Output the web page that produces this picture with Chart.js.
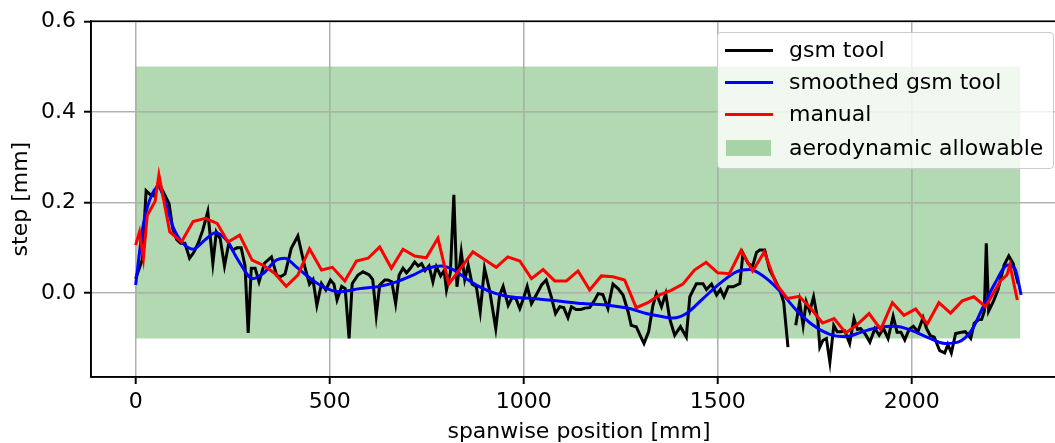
<!DOCTYPE html>
<html>
<head>
<meta charset="utf-8">
<script src="https://cdn.jsdelivr.net/npm/chart.js@4.4.1/dist/chart.umd.min.js"></script>
<style>
  html, body { margin: 0; padding: 0; background: #fff; overflow: hidden; }
  /* the axes run a bit past the right edge, as in the original figure crop */
  #wrap { position: relative; width: 1055px; height: 443px; overflow: hidden; }
  #c { position: absolute; left: 0; top: 0; }
  #legend {
    position: absolute; left: 717px; top: 32px; width: 335px; height: 135px;
    border: 1px solid #cccccc; border-radius: 4px; background: rgba(255,255,255,0.8);
    font-family: "DejaVu Sans", sans-serif; font-size: 22px; color: #000;
  }
  .row { position: absolute; left: 0; height: 30px; width: 100%; }
  .row .h { position: absolute; left: 7px; width: 48px; }
  .row .t { position: absolute; left: 71px; top: 0; line-height: 30px; white-space: nowrap; }
</style>
</head>
<body>
<div id="wrap">
  <canvas id="c" width="1068" height="443"></canvas>
  <div id="legend"></div>
</div>
<script>
// gsm tool (raw), null = gap
const GSM_X = [0, 17, 27, 37, 46, 58, 66, 76, 86, 96, 106, 116, 127, 139, 150, 162, 173, 186, 199, 208,
  218, 229, 240, 250, 261, 272, 282, 290, 298, 308, 318, 332, 350, 363, 373, 385, 401, 418, 436, 448,
  457, 467, 479, 490, 502, 511, 519, 531, 540, 550, 558, 573, 586, 602, 611, 620, 629, 642, 650, 660,
  670, 679, 689, 698, 708, 719, 728, 737, 746, 756, 766, 775, 786, 795, 801, 811, 820, 828, 839, 848,
  857, 867, 878, 888, 899, 912, 928, 938, 947, 960, 970, 980, 990, 1000, 1009, 1020, 1033, 1046, 1058, 1070,
  1082, 1093, 1103, 1114, 1123, 1135, 1147, 1158, 1170, 1183, 1192, 1204, 1217, 1230, 1243, 1256, 1269, 1277, 1290, 1300,
  1310, 1322, 1333, 1342, 1355, 1366, 1376, 1389, 1404, 1419, 1428, 1445, 1462, 1471, 1484, 1497, 1507, 1516, 1527, 1540,
  1557, 1565, 1578, 1590, 1600, 1608, 1621, 1634, 1647, 1660, 1670, 1681, 1691, 1701, 1711, 1720, 1728, 1737, 1747, 1758,
  1763, 1771, 1780, 1789, 1799, 1808, 1818, 1827, 1840, 1851, 1860, 1868, 1880, 1892, 1905, 1916, 1927, 1939, 1952, 1962,
  1972, 1982, 1993, 2004, 2016, 2029, 2038, 2048, 2058, 2072, 2085, 2093, 2102, 2113, 2125, 2138, 2152, 2161, 2172, 2180,
  2187, 2192, 2198, 2210, 2222, 2238, 2250, 2261, 2274];
const GSM_Y = [0.032, 0.073, 0.226, 0.218, 0.215, 0.242, 0.232, 0.215, 0.198, 0.140, 0.118, 0.110, 0.110, 0.077, 0.090, 0.112, 0.139, 0.180, 0.066, 0.135,
  0.120, 0.060, 0.110, 0.095, 0.100, 0.100, 0.060, -0.088, 0.055, 0.055, 0.025, 0.066, 0.080, 0.040, 0.036, 0.042, 0.099, 0.126, 0.058, 0.020,
  0.030, -0.027, 0.021, 0.007, 0.029, 0.020, -0.015, 0.015, 0.010, -0.100, 0.021, 0.040, 0.047, 0.040, 0.030, -0.049, 0.018, 0.029, 0.029, 0.025,
  -0.023, 0.040, 0.055, 0.045, 0.055, 0.069, 0.060, 0.065, 0.050, 0.060, 0.025, 0.058, 0.038, 0.050, 0.007, 0.045, 0.217, 0.014, 0.091, 0.030,
  0.062, 0.020, 0.014, -0.041, 0.055, 0.007, -0.078, -0.005, 0.015, -0.027, -0.010, -0.012, -0.034, -0.010, 0.015, -0.023, -0.003, 0.018, 0.029, -0.005,
  -0.045, -0.030, -0.032, -0.054, -0.030, -0.036, -0.036, -0.033, -0.032, -0.015, -0.001, -0.003, -0.034, 0.020, 0.010, -0.004, -0.041, -0.071, -0.074, -0.093,
  -0.111, -0.085, -0.027, -0.001, -0.030, -0.001, -0.056, -0.093, -0.074, -0.097, -0.008, 0.021, 0.021, 0.008, 0.020, -0.004, 0.008, -0.008, 0.014, 0.014,
  0.021, 0.088, 0.066, 0.060, 0.090, 0.095, 0.095, 0.051, 0.030, 0.007, -0.020, -0.119, null, -0.071, -0.019, -0.071, -0.019, -0.040, -0.008, -0.060,
  -0.119, -0.104, -0.100, -0.152, -0.071, -0.085, -0.085, -0.083, -0.111, -0.056, -0.080, -0.078, -0.090, -0.108, -0.078, -0.093, -0.078, -0.100, -0.051, -0.086,
  -0.086, -0.103, -0.080, -0.073, -0.085, -0.054, -0.078, -0.094, -0.097, -0.127, -0.132, -0.113, -0.132, -0.089, -0.087, -0.085, -0.100, -0.066, -0.059, -0.058,
  -0.040, 0.110, -0.040, -0.019, 0.007, 0.062, 0.082, 0.066, 0.021];

// smoothed gsm tool
const SMOOTH_X = [0, 19, 36, 58, 75, 96, 122, 148, 178, 206, 234, 264, 302, 328, 363, 384, 414, 448, 483, 526,
  577, 629, 672, 715, 753, 788, 818, 852, 887, 925, 964, 1024, 1084, 1153, 1222, 1273, 1316, 1359, 1385, 1419,
  1462, 1505, 1548, 1582, 1617, 1660, 1703, 1746, 1789, 1830, 1870, 1913, 1956, 1999, 2042, 2085, 2119, 2154, 2184, 2214,
  2248, 2265, 2282];
const SMOOTH_Y = [0.018, 0.147, 0.205, 0.235, 0.205, 0.147, 0.110, 0.097, 0.117, 0.133, 0.117, 0.073, 0.032, 0.043, 0.073, 0.077, 0.058, 0.034, 0.014, 0.003,
  0.010, 0.015, 0.025, 0.040, 0.055, 0.060, 0.052, 0.032, 0.014, 0.000, -0.008, -0.012, -0.017, -0.023, -0.027, -0.034, -0.045, -0.052, -0.055, -0.045,
  -0.012, 0.021, 0.047, 0.052, 0.038, 0.005, -0.038, -0.071, -0.091, -0.096, -0.086, -0.076, -0.073, -0.082, -0.098, -0.111, -0.108, -0.082, -0.030, 0.021,
  0.062, 0.055, -0.004];

// manual
const MANUAL_X = [0, 10, 20, 30, 50, 60, 88, 118, 148, 180, 210, 238, 268, 300, 328, 358, 388, 418, 448, 479,
  507, 539, 569, 599, 629, 659, 689, 719, 749, 779, 807, 869, 899, 929, 959, 990, 1020, 1050, 1080, 1110,
  1140, 1170, 1200, 1230, 1260, 1290, 1320, 1350, 1380, 1410, 1440, 1470, 1500, 1530, 1560, 1590, 1620, 1650, 1680, 1710,
  1740, 1770, 1800, 1830, 1860, 1890, 1920, 1950, 1980, 2010, 2040, 2070, 2100, 2130, 2160, 2190, 2230, 2245, 2253, 2272];
const MANUAL_Y = [0.106, 0.135, 0.077, 0.172, 0.202, 0.261, 0.135, 0.113, 0.158, 0.165, 0.154, 0.113, 0.128, 0.073, 0.062, 0.044, 0.015, 0.040, 0.098, 0.051,
  0.057, 0.027, 0.071, 0.077, 0.102, 0.055, 0.097, 0.082, 0.078, 0.121, 0.020, 0.091, 0.074, 0.057, 0.080, 0.071, 0.032, 0.052, 0.027, 0.027,
  0.049, 0.007, 0.038, 0.036, 0.029, -0.032, -0.021, -0.004, 0.006, 0.020, 0.051, 0.068, 0.045, 0.043, 0.094, 0.049, 0.091, 0.021, -0.012, -0.007,
  -0.034, -0.066, -0.056, -0.088, -0.069, -0.045, -0.080, -0.021, -0.049, -0.035, -0.068, -0.021, -0.044, -0.017, -0.008, -0.030, 0.029, 0.040, 0.062, -0.015];

// aerodynamic allowable band
const BAND_X = [0, 2280];
const BAND_HI = [0.5, 0.5];
const BAND_LO = [-0.1, -0.1];

const X_TICKS = [0, 500, 1000, 1500, 2000];
const Y_TICKS = [0.0, 0.2, 0.4, 0.6];

const FONT = "DejaVu Sans";
const FS = 22;
const GREEN = "rgba(0, 128, 0, 0.3)";
const BAND_INDEX = 3;

const pts = (xs, ys) => xs.map((x, i) => ({ x, y: ys[i] }));

// grid goes over the green band but under the lines (matplotlib zorder),
// then a box around the axes like the spines
const frame = {
  id: 'frame',
  afterDatasetDraw(chart, args) {
    if (args.index !== BAND_INDEX) return;
    chart.scales.x.drawGrid(chart.chartArea);
    chart.scales.y.drawGrid(chart.chartArea);
  },
  afterDatasetsDraw(chart) {
    const { ctx, chartArea: a } = chart;
    ctx.save();
    ctx.strokeStyle = '#000';
    ctx.lineWidth = 1.6;
    ctx.strokeRect(a.left, a.top, a.right - a.left, a.bottom - a.top);
    ctx.restore();
  }
};

const axisCommon = {
  grid: { color: '#b0b0b0', lineWidth: 1.3, tickColor: '#000', tickLength: 7, tickWidth: 1.6 },
  border: { color: '#000', width: 1.6 },
  ticks: { color: '#000', font: { family: FONT, size: FS } }
};

new Chart(document.getElementById('c').getContext('2d'), {
  type: 'line',
  data: {
    datasets: [
      { label: 'manual', data: pts(MANUAL_X, MANUAL_Y), borderColor: '#ff0000', borderWidth: 3,
        pointRadius: 0, tension: 0, order: 1 },
      { label: 'smoothed gsm tool', data: pts(SMOOTH_X, SMOOTH_Y), borderColor: '#0000ff', borderWidth: 3,
        pointRadius: 0, cubicInterpolationMode: 'monotone', order: 2 },
      { label: 'gsm tool', data: pts(GSM_X, GSM_Y), borderColor: '#000000', borderWidth: 3,
        pointRadius: 0, tension: 0, spanGaps: false, order: 3 },
      { label: 'aerodynamic allowable', data: pts(BAND_X, BAND_HI), borderWidth: 0, borderColor: 'rgba(0,0,0,0)',
        backgroundColor: GREEN, pointRadius: 0, fill: '+1', order: 4 },
      { label: '_lo', data: pts(BAND_X, BAND_LO), borderWidth: 0, borderColor: 'rgba(0,0,0,0)',
        pointRadius: 0, fill: false, order: 5 }
    ]
  },
  options: {
    responsive: false,
    animation: false,
    events: [],
    layout: { padding: { top: 21, right: 1, left: 0, bottom: 0 } },
    plugins: { legend: { display: false }, tooltip: { enabled: false } },
    scales: {
      x: {
        ...axisCommon,
        type: 'linear', min: -115, max: 2400,
        afterBuildTicks: s => { s.ticks = X_TICKS.map(v => ({ value: v })); },
        afterFit: s => { s.height = 66; },
        ticks: { ...axisCommon.ticks, padding: 5, maxRotation: 0, callback: v => String(v) },
        title: { display: true, text: 'spanwise position [mm]', color: '#000',
          font: { family: FONT, size: FS, lineHeight: 1.0 }, padding: { top: 0, bottom: 0 } }
      },
      y: {
        ...axisCommon,
        type: 'linear', min: -0.185, max: 0.6,
        afterBuildTicks: s => { s.ticks = Y_TICKS.map(v => ({ value: v })); },
        afterFit: s => { s.width = 91; },
        ticks: { ...axisCommon.ticks, padding: 8, callback: v => v.toFixed(1) },
        title: { display: true, text: 'step [mm]', color: '#000',
          font: { family: FONT, size: FS, lineHeight: 1.2 }, padding: { top: 8, bottom: 0 } }
      }
    }
  },
  plugins: [frame]
});

// legend drawn as html over the axes, like matplotlib's upper-right box
const LEGEND = [
  { text: 'gsm tool', kind: 'line', color: '#000000', y: 17 },
  { text: 'smoothed gsm tool', kind: 'line', color: '#0000ff', y: 49 },
  { text: 'manual', kind: 'line', color: '#ff0000', y: 81 },
  { text: 'aerodynamic allowable', kind: 'patch', color: GREEN, y: 115 }
];
const leg = document.getElementById('legend');
LEGEND.forEach(it => {
  const row = document.createElement('div');
  row.className = 'row';
  row.style.top = (it.y - 15) + 'px';
  const h = document.createElement('div');
  h.className = 'h';
  if (it.kind === 'line') {
    h.style.top = '13.5px'; h.style.height = '3px'; h.style.background = it.color;
  } else {
    h.style.top = '7px'; h.style.height = '16px'; h.style.left = '8px'; h.style.width = '45px';
    h.style.background = it.color;
  }
  const t = document.createElement('span');
  t.className = 't';
  t.textContent = it.text;
  row.appendChild(h);
  row.appendChild(t);
  leg.appendChild(row);
});
</script>
</body>
</html>
